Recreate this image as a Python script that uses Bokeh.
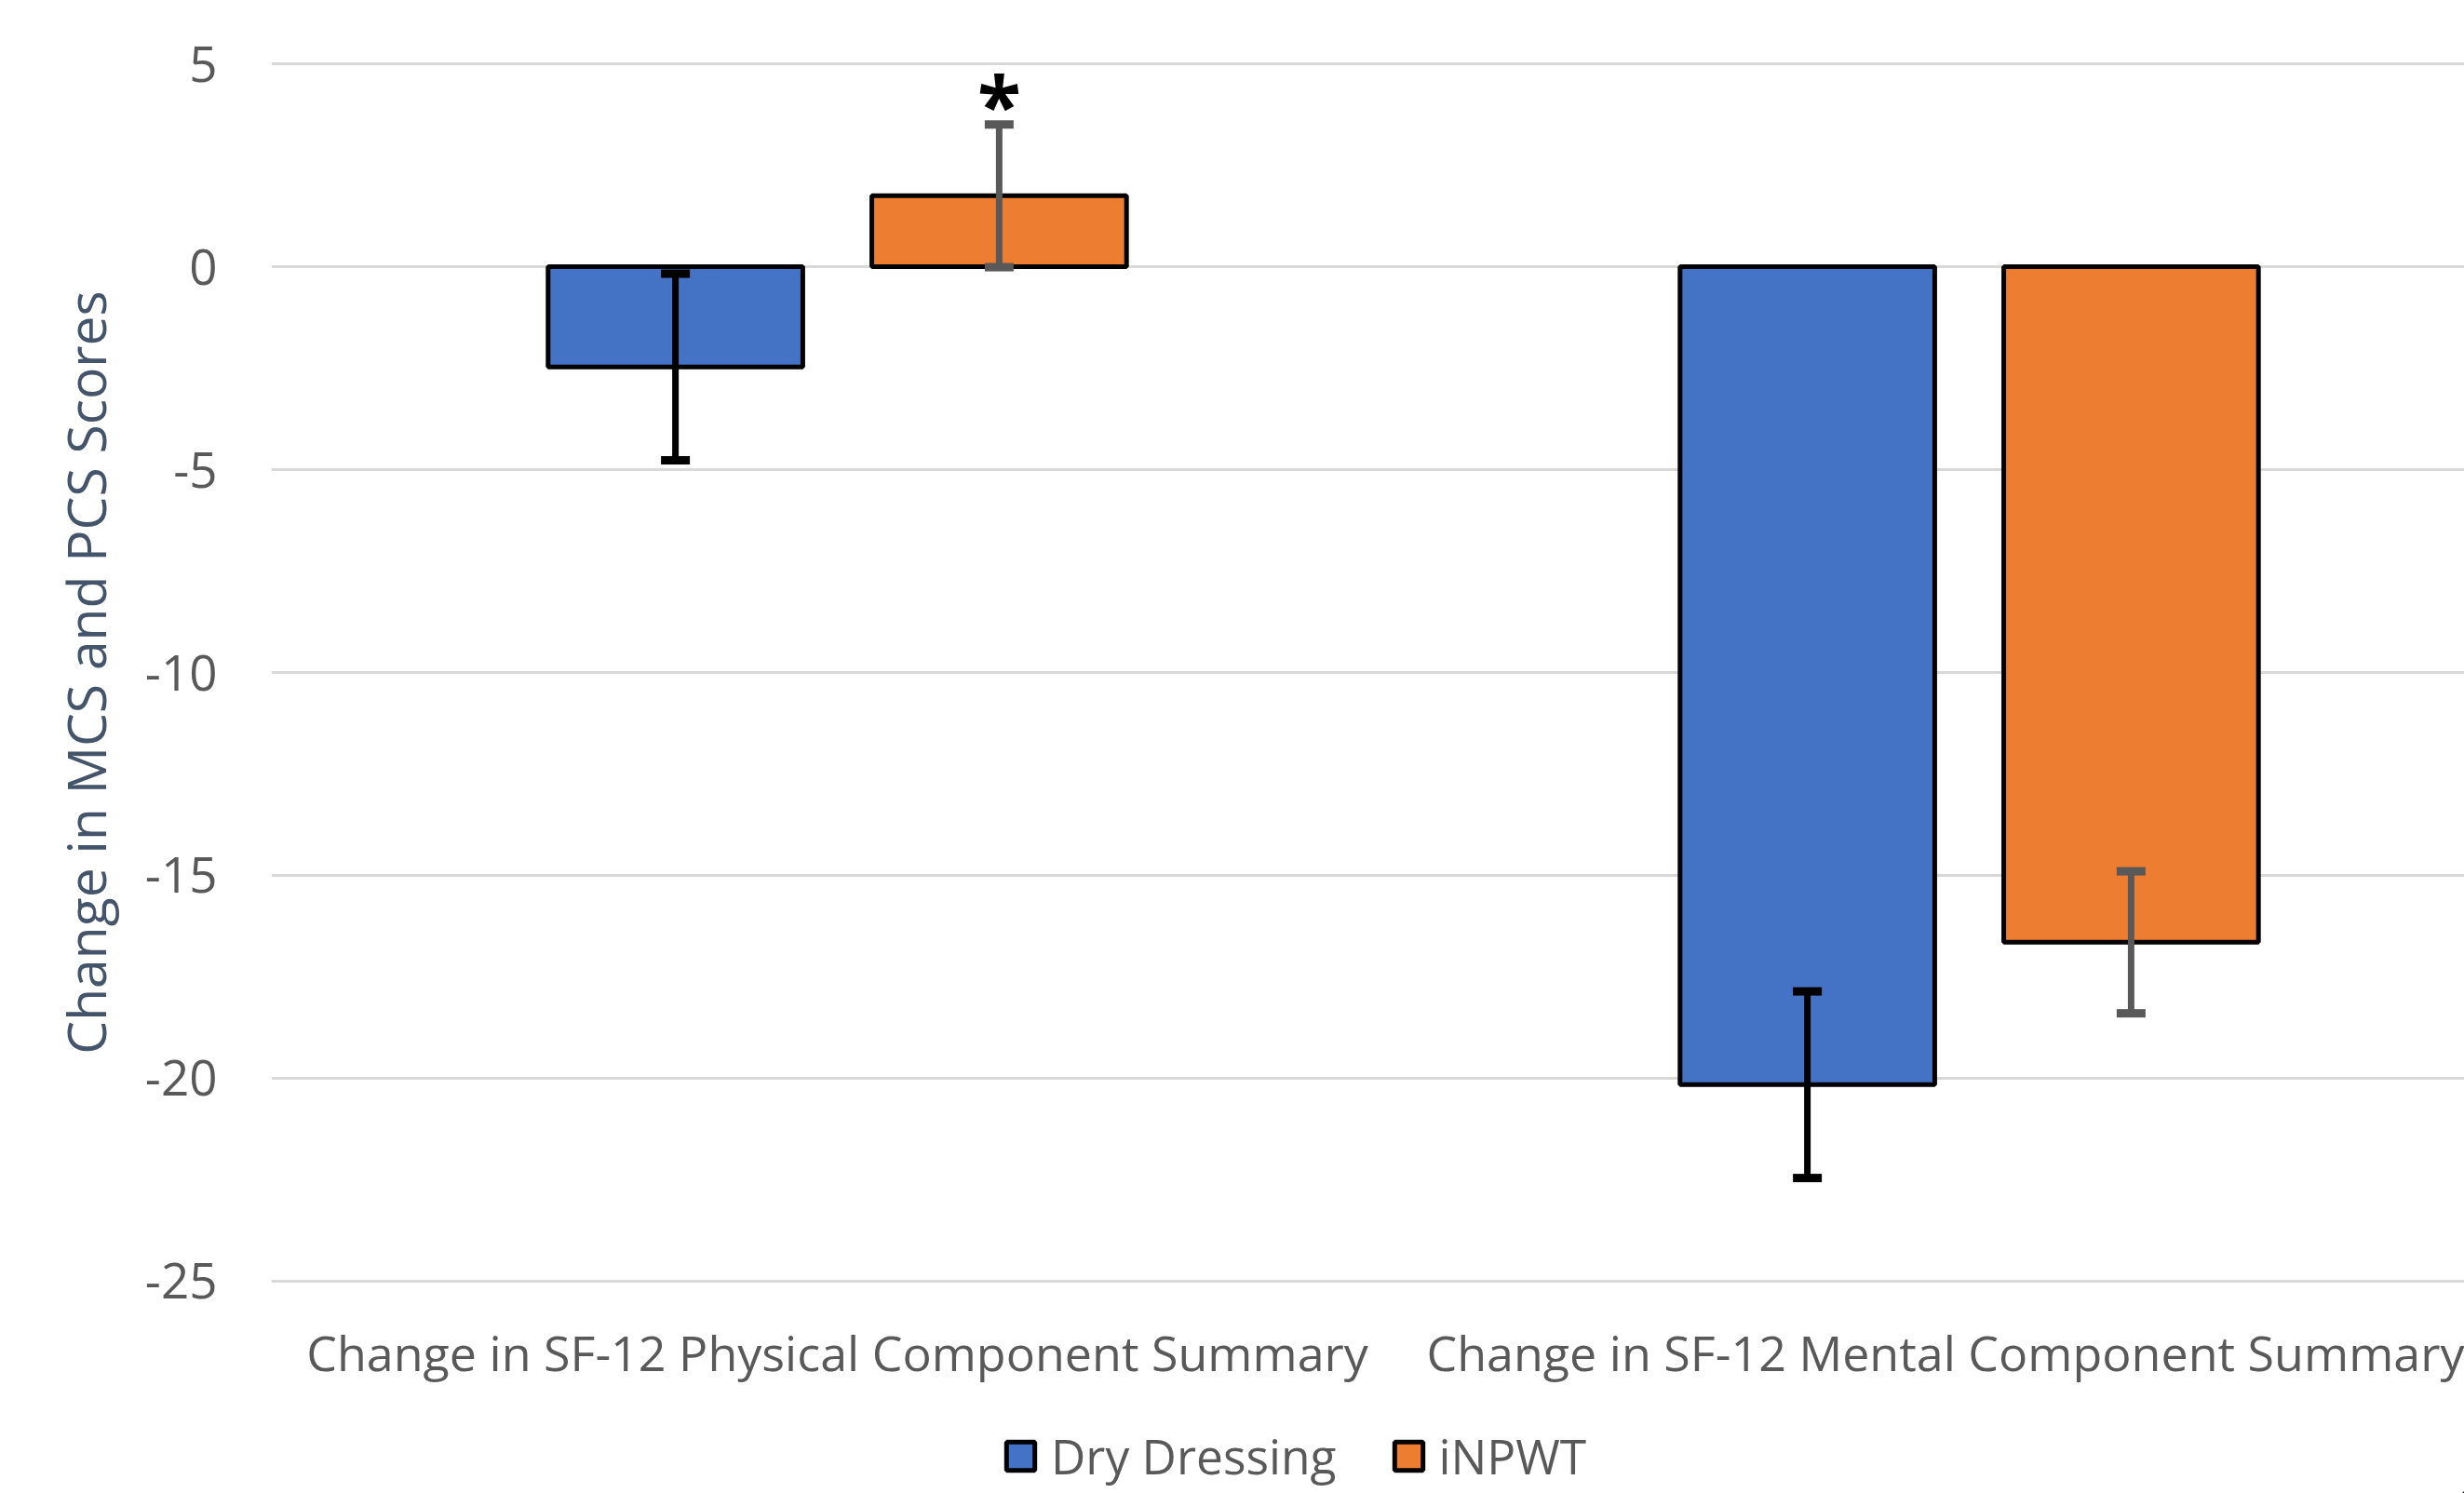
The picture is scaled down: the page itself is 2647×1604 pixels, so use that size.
from bokeh.plotting import figure
from bokeh.layouts import column
from bokeh.models import ColumnDataSource, Range1d, FixedTicker, Whisker, TeeHead, Legend, LegendItem
from bokeh.core.properties import value
from bokeh.embed import file_html
from bokeh.resources import INLINE

# ---------------- data ----------------
categories = ["Change in SF-12 Physical Component Summary",
              "Change in SF-12 Mental Component Summary"]
series = ["Dry Dressing", "iNPWT"]
dry_values = [-2.47, -20.16]
dry_errors = [2.30, 2.30]
inpwt_values = [1.75, -16.65]
inpwt_errors = [1.76, 1.75]
inpwt_sig = ["*", ""]
y_ticks = [-25, -20, -15, -10, -5, 0, 5]
y_tick_labels = ["-25", "-20", "-15", "-10", "-5", "0", "5"]
y_title = "Change in MCS and PCS Scores"

# ---------------- styling ----------------
BLUE = "#4472C4"
ORANGE = "#ED7D31"
GREY_ERR = "#595959"
TXT = "#595959"
GRID = "#D9D9D9"
FONT = "Open Sans"
OFFSET = 0.143
BAR_W = 0.225
W = 2647
H_MAIN = 1530
H_LEG = 74

cat_x = [i + 0.5 for i in range(len(categories))]

def make_src(vals, errs, shift, labels=None):
    d = dict(
        x=[c + shift for c in cat_x],
        top=vals,
        upper=[v + e for v, e in zip(vals, errs)],
        lower=[v - e for v, e in zip(vals, errs)],
    )
    if labels is not None:
        d["lab"] = labels
    return ColumnDataSource(d)

dry_src = make_src(dry_values, dry_errors, -OFFSET)
inp_src = make_src(inpwt_values, inpwt_errors, OFFSET, inpwt_sig)

p = figure(width=W, height=H_MAIN, output_backend="svg", toolbar_location=None,
           x_range=Range1d(0, 1.9375), y_range=Range1d(-25.05, 5.05),
           min_border_left=291, min_border_top=66, min_border_bottom=152,
           min_border_right=0)
p.outline_line_color = None
p.background_fill_color = "white"
p.border_fill_color = "white"

bar_style = dict(bottom=0, width=BAR_W, line_color="black", line_width=5)
p.vbar(x="x", top="top", source=dry_src, fill_color=BLUE, **bar_style)
p.vbar(x="x", top="top", source=inp_src, fill_color=ORANGE, **bar_style)

for src, col in ((dry_src, "black"), (inp_src, GREY_ERR)):
    w = Whisker(base="x", upper="upper", lower="lower", source=src,
                line_color=col, line_width=7, level="overlay",
                upper_head=TeeHead(size=31, line_width=9, line_color=col),
                lower_head=TeeHead(size=31, line_width=9, line_color=col))
    p.add_layout(w)

p.text(x="x", y="upper", text="lab", source=inp_src,
       text_font=value(FONT), text_font_style="bold", text_font_size="86px",
       text_color="black", text_align="center", text_baseline="alphabetic",
       y_offset=-22)

# axes
p.yaxis.ticker = FixedTicker(ticks=y_ticks)
p.yaxis.major_label_overrides = {t: l for t, l in zip(y_ticks, y_tick_labels)}
p.yaxis.axis_line_color = None
p.yaxis.major_tick_line_color = None
p.yaxis.minor_tick_line_color = None
p.yaxis.major_tick_out = 0
p.yaxis.major_label_standoff = 58
p.yaxis.major_label_text_font = FONT
p.yaxis.major_label_text_font_size = "53px"
p.yaxis.major_label_text_color = TXT
p.yaxis.axis_label = y_title
p.yaxis.axis_label_text_font = FONT
p.yaxis.axis_label_text_font_size = "57px"
p.yaxis.axis_label_text_font_style = "normal"
p.yaxis.axis_label_text_color = "#44546A"
p.yaxis.axis_label_standoff = 22

p.xaxis.ticker = FixedTicker(ticks=cat_x)
p.xaxis.major_label_overrides = {c: l for c, l in zip(cat_x, categories)}
p.xaxis.axis_line_color = None
p.xaxis.major_tick_line_color = None
p.xaxis.minor_tick_line_color = None
p.xaxis.major_tick_out = 0
p.xaxis.major_label_standoff = 38
p.xaxis.major_label_text_font = FONT
p.xaxis.major_label_text_font_size = "52px"
p.xaxis.major_label_text_color = TXT

p.xgrid.grid_line_color = None
p.ygrid.grid_line_color = GRID
p.ygrid.grid_line_width = 3

# ---------------- legend strip (same sources, bars kept out of view) ----------------
pl = figure(width=W, height=H_LEG, output_backend="svg", toolbar_location=None,
            x_range=Range1d(-100, -99), y_range=Range1d(100, 101),
            x_axis_location=None, y_axis_location=None,
            min_border_left=291, min_border_right=0, min_border_top=0, min_border_bottom=0)
pl.outline_line_color = None
pl.grid.grid_line_color = None
pl.background_fill_color = "white"
pl.border_fill_color = "white"
l1 = pl.vbar(x="x", top="top", source=dry_src, fill_color=BLUE, **bar_style)
l2 = pl.vbar(x="x", top="top", source=inp_src, fill_color=ORANGE, **bar_style)

legend = Legend(items=[LegendItem(label=series[0], renderers=[l1]),
                       LegendItem(label=series[1], renderers=[l2])],
                orientation="horizontal", location=(786, 5),
                glyph_width=38, glyph_height=38, label_standoff=14, spacing=58,
                padding=0, margin=0, border_line_color=None,
                background_fill_alpha=0,
                label_text_font=FONT, label_text_font_size="51.5px",
                label_text_color=TXT)
pl.add_layout(legend, "center")

open("out.html", "w").write(file_html(column(p, pl, spacing=0), INLINE))
